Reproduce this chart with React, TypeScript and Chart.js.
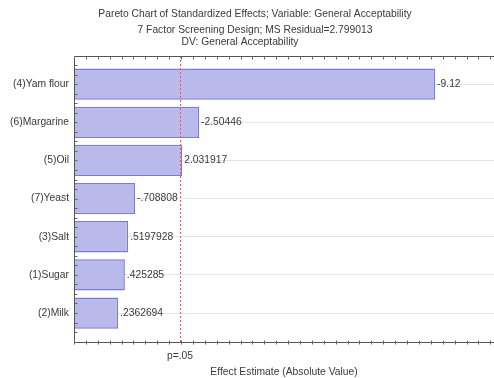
import React, { useEffect, useRef } from "react";
import { Chart, registerables } from "chart.js";

Chart.register(...registerables);

// Factors, ordered by absolute standardized effect (largest first)
const factors = [
  "(4)Yam flour",
  "(6)Margarine",
  "(5)Oil",
  "(7)Yeast",
  "(3)Salt",
  "(1)Sugar",
  "(2)Milk",
];
const effects = [-9.12, -2.50446, 2.031917, -0.708808, 0.5197928, 0.425285, 0.2362694];
const effectLabels = ["-9.12", "-2.50446", "2.031917", "-.708808", ".5197928", ".425285", ".2362694"];

const titleLines = [
  "Pareto Chart of Standardized Effects; Variable: General Acceptability",
  "7 Factor Screening Design; MS Residual=2.799013",
  "DV: General Acceptability",
];
const xAxisTitle = "Effect Estimate (Absolute Value)";
const pLabel = "p=.05";
const pCritical = 1.97;
const xMin = -1;
const xMax = 10.77;
const yMin = -0.74;
const yMax = 6.76;

const FONT = "'Liberation Sans', Arial, sans-serif";
const FS = 10.3;
const TEXT = "#3a3a3a";

// Chart title, p=.05 reference line, frame with minor ticks, and bar value labels
const decorations = {
  id: "decorations",
  afterDraw(chart: any) {
    const ctx = chart.ctx;
    const { left, right, top, bottom } = chart.chartArea;
    const xs = chart.scales.x;
    const ys = chart.scales.y;
    ctx.save();

    // titles
    ctx.fillStyle = TEXT;
    ctx.font = `${FS}px ${FONT}`;
    ctx.textAlign = "center";
    ctx.textBaseline = "middle";
    ctx.fillText(titleLines[0], 255, 14);
    ctx.fillText(titleLines[1], 255, 30);
    ctx.fillText(titleLines[2], 240, 42);

    // critical value line
    const px = Math.round(xs.getPixelForValue(pCritical)) + 0.5;
    ctx.strokeStyle = "#d0607c";
    ctx.lineWidth = 1;
    ctx.setLineDash([2, 2]);
    ctx.beginPath();
    ctx.moveTo(px, top);
    ctx.lineTo(px, bottom);
    ctx.stroke();
    ctx.setLineDash([]);

    // frame: top, left, bottom
    ctx.strokeStyle = "#555";
    ctx.lineWidth = 1;
    const t = Math.round(top) + 0.5;
    const b = Math.round(bottom) + 0.5;
    const l = Math.round(left) + 0.5;
    ctx.beginPath();
    ctx.moveTo(l, t);
    ctx.lineTo(right, t);
    ctx.moveTo(l, t);
    ctx.lineTo(l, b);
    ctx.moveTo(l, b);
    ctx.lineTo(right, b);
    ctx.stroke();

    // minor ticks along horizontal edges
    ctx.strokeStyle = "#666";
    ctx.beginPath();
    for (let v = xMin; v <= xMax + 1e-9; v += 1 / 3) {
      const x = Math.round(xs.getPixelForValue(v)) + 0.5;
      ctx.moveTo(x, t);
      ctx.lineTo(x, t + 3);
      ctx.moveTo(x, b - 2);
      ctx.lineTo(x, b + 2);
    }
    // minor ticks along the left edge
    for (let v = -0.5; v <= yMax; v += 0.25) {
      const y = Math.round(ys.getPixelForValue(v)) + 0.5;
      ctx.moveTo(l, y);
      ctx.lineTo(l + 3, y);
    }
    ctx.stroke();

    // value labels beside bars
    ctx.fillStyle = TEXT;
    ctx.font = `${FS}px ${FONT}`;
    ctx.textAlign = "left";
    ctx.textBaseline = "middle";
    const meta = chart.getDatasetMeta(0);
    meta.data.forEach((bar: any, i: number) => {
      ctx.fillText(effectLabels[i], bar.x + 2, bar.y);
    });

    ctx.restore();
  },
};

export default function App() {
  const ref = useRef<HTMLCanvasElement | null>(null);

  useEffect(() => {
    document.body.style.margin = "0";
    const canvas = ref.current;
    if (!canvas) return;
    const chart = new Chart(canvas, {
      type: "bar",
      data: {
        datasets: [
          {
            data: effects.map((e, i) => ({ x: Math.abs(e), y: i })),
            base: xMin,
            backgroundColor: "#b9b9ec",
            borderColor: "#7b7bd6",
            borderWidth: 1.5,
            borderSkipped: false,
            barPercentage: 1,
            categoryPercentage: 0.82,
          } as any,
        ],
      },
      options: {
        indexAxis: "y",
        animation: false,
        responsive: false,
        maintainAspectRatio: false,
        layout: { padding: { top: 56, left: 0, right: 0, bottom: 0 } },
        plugins: {
          legend: { display: false },
          tooltip: { enabled: false },
          title: { display: false },
        },
        scales: {
          x: {
            type: "linear",
            position: "bottom",
            min: xMin,
            max: xMax,
            grid: { display: false },
            border: { display: false },
            afterBuildTicks: (scale: any) => {
              scale.ticks = [{ value: pCritical }];
            },
            afterFit: (scale: any) => {
              scale.height = 36;
            },
            ticks: {
              callback: () => pLabel,
              color: TEXT,
              font: { family: FONT, size: FS },
              padding: 0,
              maxRotation: 0,
              autoSkip: false,
            },
            title: {
              display: true,
              text: xAxisTitle,
              color: TEXT,
              font: { family: FONT, size: FS },
              padding: { top: 0, bottom: 0 },
            },
          },
          y: {
            type: "linear",
            min: yMin,
            max: yMax,
            reverse: true,
            offset: false,
            afterBuildTicks: (scale: any) => {
              scale.ticks = factors.map((_, i) => ({ value: i }));
            },
            afterFit: (scale: any) => {
              scale.width = 74;
            },
            grid: {
              color: "#e4e4e4",
              drawTicks: false,
              offset: false,
            },
            border: { display: false },
            ticks: {
              callback: (v: any) => factors[v as number] ?? "",
              color: TEXT,
              font: { family: FONT, size: FS },
              padding: 5,
              autoSkip: false,
            },
          },
        },
      },
      plugins: [decorations],
    } as any);
    return () => chart.destroy();
  }, []);

  return <canvas ref={ref} width={494} height={378} style={{ display: "block" }} />;
}
